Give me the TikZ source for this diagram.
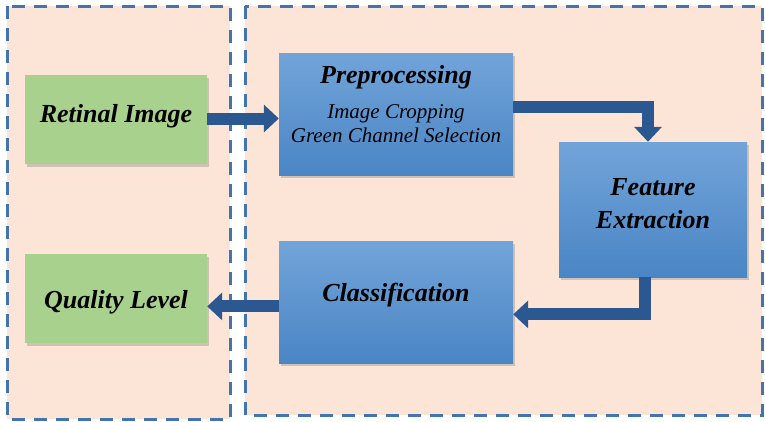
\documentclass[tikz,border=0pt]{standalone}
\usepackage{fontspec}
\setmainfont{Liberation Serif}
\usetikzlibrary{positioning,arrows.meta,shadows}
\definecolor{panelpeach}{HTML}{FCE4D6}
\definecolor{paneldash}{HTML}{4274AE}
\definecolor{iogreen}{HTML}{A9D18E}
\definecolor{stagetop}{HTML}{72A4D9}
\definecolor{stagebot}{HTML}{4A85C5}
\definecolor{flowblue}{HTML}{2B5890}
\newcommand{\titlefont}{\fontsize{26}{33}\selectfont\bfseries\itshape}
\newcommand{\subfont}{\fontsize{21}{24}\selectfont\mdseries\itshape}
\tikzset{
  panel/.style={draw=paneldash,fill=panelpeach,line width=3pt,dash pattern=on 13pt off 9pt},
  boxshadow/.style={drop shadow={shadow xshift=2pt,shadow yshift=-3pt,opacity=0.35}},
  iobox/.style={fill=iogreen,boxshadow,minimum width=182pt,minimum height=89pt,inner sep=0pt,font=\titlefont},
  stagebox/.style={top color=stagetop,bottom color=stagebot,boxshadow,inner sep=0pt,align=center,font=\titlefont},
  flow/.style={draw=flowblue,line width=12pt,line join=miter,-{Triangle[width=27pt,length=15pt]}}
}

\begin{document}
\begin{tikzpicture}[x=1pt,y=-1pt]
  \useasboundingbox (0,0) rectangle (765,421);
  % the two dashed panels
  \draw[panel] (7,6) rectangle (230,419);
  \draw[panel] (245,6) rectangle (762,415);
  % blocks
  \node[iobox,text depth=12pt] (ret) at (116,119.5) {Retinal Image};
  \node[iobox,below=90pt of ret,text height=24pt] (ql) {Quality Level};
  \node[stagebox,minimum width=234pt,minimum height=122pt,text depth=20pt] (pre) at (396,114)
    {Preprocessing\\[2pt]\subfont Image Cropping\\[-9pt]\subfont Green Channel Selection};
  \node[stagebox,minimum width=234pt,minimum height=122pt,below=66pt of pre,text depth=20pt] (cls) {Classification};
  \node[stagebox,minimum width=188pt,minimum height=135pt,text depth=12pt] (fe) at (653,209.5)
    {Feature\\Extraction};
  % connectors
  \draw[flow] ([yshift=1pt]ret.east) -- ([yshift=1pt]ret.east -| pre.west);
  \draw[flow] ([yshift=7pt]pre.east) -| ([xshift=-5pt]fe.north);
  \draw[flow] ([xshift=-8pt]fe.south) |- ([yshift=-12pt]cls.east);
  \draw[flow] ([yshift=-4pt]cls.west) -- ([yshift=-4pt]cls.west -| ql.east);
\end{tikzpicture}
\end{document}
